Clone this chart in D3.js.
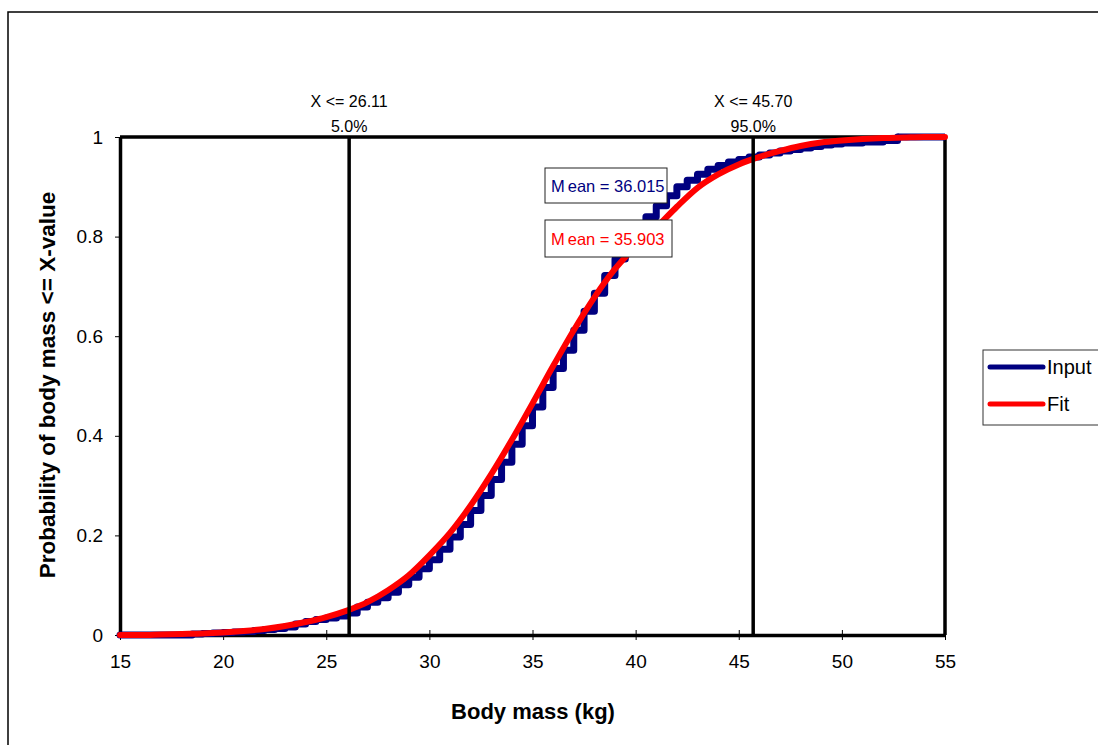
<!DOCTYPE html>
<html>
<head>
<meta charset="utf-8">
<script src="https://cdn.jsdelivr.net/npm/d3@7"></script>
<style>
  body { margin: 0; background: #fff; }
  svg { font-family: "Liberation Sans", Arial, sans-serif; }
</style>
</head>
<body>
<div id="graf"></div>
<script>
// fitted curve
const fitX = [15, 16, 17, 18, 19, 20, 21, 22, 23, 24, 25, 26, 27, 28, 29, 30, 31, 32, 33, 34, 35,
  36, 37, 38, 39, 40, 41, 42, 43, 44, 45, 46, 47, 48, 49, 50, 51, 52, 53, 54, 55]
const fitP = [0, 0, 0.001, 0.002, 0.003, 0.005, 0.008, 0.012, 0.018, 0.026, 0.036, 0.049, 0.066, 0.09,
  0.12, 0.16, 0.205, 0.26, 0.323, 0.392, 0.465, 0.54, 0.612, 0.678, 0.735, 0.78, 0.818, 0.86, 0.898,
  0.925, 0.945, 0.96, 0.972, 0.982, 0.989, 0.993, 0.996, 0.998, 0.999, 1, 1]

// empirical cdf (input data), step positions and levels
const inputX = [15, 18.5, 19, 19.5, 20, 20.5, 21, 21.5, 22, 22.5, 23, 23.5, 24, 24.5, 25, 25.5, 26, 26.5,
  27, 27.5, 28, 28.5, 29, 29.5, 30, 30.5, 31, 31.5, 32, 32.5, 33, 33.5, 34, 34.5, 35, 35.5, 36, 36.5,
  37, 37.5, 38, 38.5, 39, 39.5, 40, 40.5, 41, 41.5, 42, 42.5, 43, 43.5, 44, 44.5, 45, 45.5, 46, 46.5,
  47, 47.5, 48, 48.5, 49, 49.5, 50, 51, 52, 52.7]
const inputP = [0, 0.002, 0.003, 0.004, 0.005, 0.006, 0.007, 0.009, 0.011, 0.013, 0.016, 0.022, 0.027,
  0.031, 0.034, 0.038, 0.044, 0.056, 0.066, 0.075, 0.086, 0.101, 0.116, 0.133, 0.151, 0.172, 0.197,
  0.222, 0.25, 0.28, 0.312, 0.347, 0.383, 0.42, 0.458, 0.497, 0.535, 0.572, 0.612, 0.65, 0.686, 0.722,
  0.755, 0.79, 0.815, 0.84, 0.862, 0.882, 0.9, 0.913, 0.925, 0.935, 0.943, 0.95, 0.955, 0.96, 0.964,
  0.968, 0.972, 0.975, 0.978, 0.981, 0.984, 0.986, 0.988, 0.99, 0.993, 1]

const xTicks = [15, 20, 25, 30, 35, 40, 45, 50, 55]
const yTicks = [0, 0.2, 0.4, 0.6, 0.8, 1]
const yTickLabels = ["0", "0.2", "0.4", "0.6", "0.8", "1"]

const markers = [
  {x: 26.11, top: "X <= 26.11", bottom: "5.0%"},
  {x: 45.70, top: "X <= 45.70", bottom: "95.0%"}
]
const means = [
  {label: "Mean = 36.015", color: "#000080"},
  {label: "Mean = 35.903", color: "#ff0000"}
]
const series = [
  {name: "Input", color: "#000080"},
  {name: "Fit", color: "#ff0000"}
]

const width = 1098
const height = 745
const margin = {top: 137, right: 153, bottom: 110, left: 120}

const x = d3.scaleLinear()
    .domain([15, 55])
    .range([margin.left, width - margin.right])

const y = d3.scaleLinear()
    .domain([0, 1])
    .range([height - margin.bottom, margin.top])

const svg = d3.select("#graf").append("svg")
    .attr("width", width)
    .attr("height", height)

// outer chart frame (runs off the right and bottom)
svg.append("rect")
    .attr("x", 8).attr("y", 12)
    .attr("width", 1200).attr("height", 900)
    .attr("fill", "none")
    .attr("stroke", "#000")
    .attr("stroke-width", 1.5)

// top and right edges of the plot box
svg.append("path")
    .attr("fill", "none")
    .attr("stroke", "#000")
    .attr("stroke-width", 3.5)
    .attr("d", `M${x(15)},${y(1)}H${x(55)}V${y(0)}`)

// axes
const xAxis = svg.append("g")
    .attr("transform", `translate(0,${y(0)})`)
    .call(d3.axisBottom(x).tickValues(xTicks).tickSize(5).tickSizeOuter(0).tickPadding(15))
xAxis.select(".domain").attr("stroke-width", 3.5)
xAxis.selectAll(".tick line").attr("y1", -5)
xAxis.selectAll(".tick text")
    .attr("font-size", 19)
    .attr("font-family", "Liberation Sans, Arial, sans-serif")

const yAxis = svg.append("g")
    .attr("transform", `translate(${x(15)},0)`)
    .call(d3.axisLeft(y).tickValues(yTicks).tickFormat((d, i) => yTickLabels[i])
      .tickSize(5).tickSizeOuter(0).tickPadding(12))
yAxis.select(".domain").attr("stroke-width", 3.5)
yAxis.selectAll(".tick text")
    .attr("font-size", 19)
    .attr("font-family", "Liberation Sans, Arial, sans-serif")

// input (step) and fit lines
const stepLine = d3.line().curve(d3.curveStepAfter)
    .x((d, i) => x(inputX[i])).y(d => y(d))
svg.append("path")
    .attr("fill", "none")
    .attr("stroke", series[0].color)
    .attr("stroke-width", 7)
    .attr("stroke-linejoin", "round")
    .attr("stroke-linecap", "round")
    .attr("d", stepLine(inputP))

// extend last step to the right edge
svg.append("line")
    .attr("x1", x(inputX[inputX.length - 1])).attr("x2", x(55))
    .attr("y1", y(1)).attr("y2", y(1))
    .attr("stroke", series[0].color)
    .attr("stroke-width", 7)

const fitLine = d3.line().curve(d3.curveMonotoneX)
    .x((d, i) => x(fitX[i])).y(d => y(d))
svg.append("path")
    .attr("fill", "none")
    .attr("stroke", series[1].color)
    .attr("stroke-width", 6)
    .attr("stroke-linecap", "round")
    .attr("d", fitLine(fitP))

// percentile marker lines
markers.forEach(m => {
  svg.append("line")
      .attr("x1", x(m.x)).attr("x2", x(m.x))
      .attr("y1", y(0)).attr("y2", y(1))
      .attr("stroke", "#000")
      .attr("stroke-width", 3.5)
  svg.append("text")
      .attr("x", x(m.x)).attr("y", 107)
      .attr("text-anchor", "middle")
      .attr("font-size", 16)
      .text(m.top)
  svg.append("text")
      .attr("x", x(m.x)).attr("y", 132)
      .attr("text-anchor", "middle")
      .attr("font-size", 16)
      .text(m.bottom)
})

// mean boxes
const boxes = [{bx: 545, by: 168, w: 122, h: 35}, {bx: 545, by: 220, w: 127, h: 37}]
means.forEach((m, i) => {
  const b = boxes[i]
  svg.append("rect")
      .attr("x", b.bx).attr("y", b.by)
      .attr("width", b.w).attr("height", b.h)
      .attr("fill", "#fff")
      .attr("stroke", "#222")
      .attr("stroke-width", 1)
  const t = svg.append("text")
      .attr("x", b.bx + 6).attr("y", b.by + b.h / 2 + 6)
      .attr("font-size", 16.5)
      .attr("fill", m.color)
  t.append("tspan").text("M")
  t.append("tspan").attr("dx", 3).text(m.label.slice(1))
})

// legend
svg.append("rect")
    .attr("x", 983).attr("y", 350)
    .attr("width", 140).attr("height", 75)
    .attr("fill", "#fff")
    .attr("stroke", "#333")
    .attr("stroke-width", 1)
series.forEach((s, i) => {
  const ly = 367 + i * 37
  svg.append("line")
      .attr("x1", 990).attr("x2", 1043)
      .attr("y1", ly).attr("y2", ly)
      .attr("stroke", s.color)
      .attr("stroke-width", 5)
      .attr("stroke-linecap", "round")
  svg.append("text")
      .attr("x", 1047).attr("y", ly + 7)
      .attr("font-size", 20)
      .text(s.name)
})

// axis titles
svg.append("text")
    .attr("x", 533).attr("y", 719)
    .attr("text-anchor", "middle")
    .attr("font-size", 22)
    .attr("font-weight", "bold")
    .text("Body mass (kg)")

svg.append("text")
    .attr("transform", `translate(55,385) rotate(-90)`)
    .attr("text-anchor", "middle")
    .attr("font-size", 22.5)
    .attr("font-weight", "bold")
    .text("Probability of body mass <= X-value")
</script>
</body>
</html>
